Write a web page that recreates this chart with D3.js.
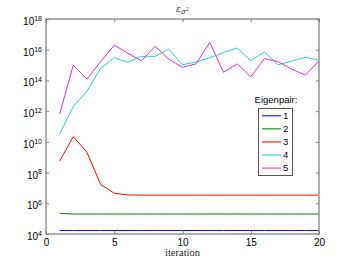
<!DOCTYPE html>
<html>
<head>
<meta charset="utf-8">
<script src="https://cdn.jsdelivr.net/npm/d3@7"></script>
<style>
  body { margin: 0; background: #fff; }
</style>
</head>
<body>
<div id="chart"></div>
<script>
// data
var iterations = [1,2,3,4,5,6,7,8,9,10,11,12,13,14,15,16,17,18,19,20];
var seriesNames = ["1", "2", "3", "4", "5"];
var seriesColors = ["#0000ff", "#008000", "#ff0000", "#2ccfcf", "#cc33d0"];
var pair1 = [1.7e4,1.7e4,1.7e4,1.7e4,1.7e4,1.7e4,1.7e4,1.7e4,1.7e4,1.7e4,1.7e4,1.7e4,1.7e4,1.7e4,1.7e4,1.7e4,1.7e4,1.7e4,1.7e4,1.7e4];
var pair2 = [2.2e5,2.0e5,2.0e5,2.0e5,2.0e5,2.0e5,2.0e5,2.0e5,2.0e5,2.0e5,2.0e5,2.0e5,2.0e5,2.0e5,2.0e5,2.0e5,2.0e5,2.0e5,2.0e5,2.0e5];
var pair3 = [5.6e8,2.2e10,2.1e9,1.7e7,4.5e6,3.5e6,3.4e6,3.4e6,3.4e6,3.4e6,3.4e6,3.4e6,3.4e6,3.4e6,3.4e6,3.4e6,3.4e6,3.4e6,3.4e6,3.4e6];
var pair4 = [3.2e10,2.0e12,2.0e13,6.2e14,3.0e15,1.5e15,3.7e15,3.7e15,1.1e16,1.05e15,1.6e15,3.0e15,6.5e15,1.3e16,2.0e15,7.1e15,1.05e15,1.8e15,3.2e15,2.1e15];
var pair5 = [6.3e11,1.0e15,1.2e14,1.7e15,2.0e16,5.9e15,1.9e15,1.7e16,2.4e15,7.2e14,1.2e15,3.0e16,3.4e14,1.2e15,1.7e14,2.6e15,1.7e15,5.4e14,2.2e14,1.9e15];
var xTicks = [0, 5, 10, 15, 20];
var yTickExps = [4, 6, 8, 10, 12, 14, 16, 18];

var width = 352, height = 264;
var pLeft = 46, pRight = 319, pTop = 19, pBottom = 234;

var svg = d3.select("#chart").append("svg")
    .attr("width", width)
    .attr("height", height)
    .attr("font-family", "Liberation Sans, Arial, sans-serif");

var x = d3.scaleLinear().domain([0, 20]).range([pLeft, pRight]);
var y = d3.scaleLog().domain([1e4, 1e18]).range([pBottom, pTop]);

var allSeries = [pair1, pair2, pair3, pair4, pair5];

var line = d3.line()
    .x(function(d, i) { return x(iterations[i]); })
    .y(function(d) { return y(d); });

svg.append("g").selectAll("path")
    .data(allSeries)
    .enter().append("path")
    .attr("d", line)
    .attr("fill", "none")
    .attr("stroke", function(d, i) { return seriesColors[i]; })
    .attr("stroke-width", 1);

// frame
svg.append("rect")
    .attr("x", pLeft).attr("y", pTop)
    .attr("width", pRight - pLeft).attr("height", pBottom - pTop)
    .attr("fill", "none")
    .attr("stroke", "#999")
    .attr("stroke-width", 1.6);

var yTickVals = yTickExps.map(function(e) { return Math.pow(10, e); });

// bottom axis, ticks pointing inwards
var xAxis = svg.append("g")
    .attr("transform", "translate(0," + pBottom + ")")
    .call(d3.axisBottom(x).tickValues(xTicks).tickSizeInner(-3).tickSizeOuter(0).tickPadding(5));
xAxis.select(".domain").remove();
xAxis.selectAll("line").attr("stroke", "#808080");
xAxis.selectAll("text").attr("font-size", "10px").attr("fill", "#000")
    .attr("font-family", "Liberation Sans, Arial, sans-serif");

var xTop = svg.append("g")
    .attr("transform", "translate(0," + pTop + ")")
    .call(d3.axisTop(x).tickValues(xTicks).tickSizeInner(-3).tickSizeOuter(0).tickFormat(""));
xTop.select(".domain").remove();
xTop.selectAll("line").attr("stroke", "#808080");

var yAxis = svg.append("g")
    .attr("transform", "translate(" + pLeft + ",0)")
    .call(d3.axisLeft(y).tickValues(yTickVals).tickSizeInner(-3).tickSizeOuter(0).tickPadding(4).tickFormat(""));
yAxis.select(".domain").remove();
yAxis.selectAll("line").attr("stroke", "#808080");
yAxis.selectAll(".tick text").each(function(d) {
  var t = d3.select(this)
      .attr("x", -4)
      .attr("dy", "0.55em")
      .attr("font-size", "10px")
      .attr("fill", "#000")
      .attr("font-family", "Liberation Sans, Arial, sans-serif");
  t.append("tspan").text("10");
  t.append("tspan").attr("dy", "-0.6em").attr("font-size", "7px").text(Math.round(Math.log10(d)));
});

var yRight = svg.append("g")
    .attr("transform", "translate(" + pRight + ",0)")
    .call(d3.axisRight(y).tickValues(yTickVals).tickSizeInner(-3).tickSizeOuter(0).tickFormat(""));
yRight.select(".domain").remove();
yRight.selectAll("line").attr("stroke", "#808080");

// title
var title = svg.append("text")
    .attr("x", (pLeft + pRight) / 2)
    .attr("y", 12)
    .attr("text-anchor", "middle")
    .attr("font-family", "DejaVu Serif, serif")
    .attr("font-style", "italic")
    .attr("font-size", "9px")
    .attr("fill", "#333");
title.append("tspan").text("\u03b5");
title.append("tspan").attr("dy", "2").attr("font-size", "7px").text("\u03c3");
title.append("tspan").attr("dy", "-3").attr("font-size", "5px").text("2");

// x label
svg.append("text")
    .attr("x", (pLeft + pRight) / 2)
    .attr("y", 256)
    .attr("text-anchor", "middle")
    .attr("font-family", "Liberation Serif, serif")
    .attr("font-size", "10.5px")
    .attr("fill", "#222")
    .text("iteration");

// legend
var legend = svg.append("g");
legend.append("text")
    .attr("x", 276)
    .attr("y", 103)
    .attr("text-anchor", "middle")
    .attr("font-size", "9.5px")
    .attr("fill", "#000")
    .text("Eigenpair:");
legend.append("rect")
    .attr("x", 258.5).attr("y", 108.5)
    .attr("width", 34).attr("height", 67)
    .attr("fill", "#fff")
    .attr("stroke", "#555")
    .attr("stroke-width", 1);
var entries = legend.selectAll("g.entry")
    .data(seriesNames)
    .enter().append("g")
    .attr("class", "entry")
    .attr("transform", function(d, i) { return "translate(0," + (115.7 + i * 13.1) + ")"; });
entries.append("line")
    .attr("x1", 262).attr("x2", 281)
    .attr("stroke", function(d, i) { return seriesColors[i]; })
    .attr("stroke-opacity", 0.7)
    .attr("stroke-width", 1.5);
entries.append("text")
    .attr("x", 283)
    .attr("dy", "0.35em")
    .attr("font-size", "9.5px")
    .attr("fill", "#000")
    .text(function(d) { return d; });
</script>
</body>
</html>
